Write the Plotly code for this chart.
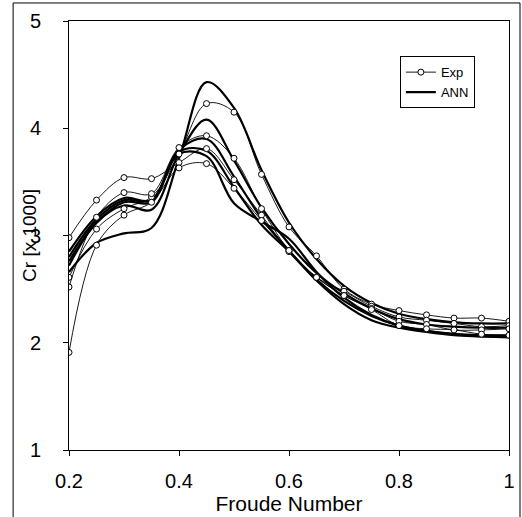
import plotly.graph_objects as go

# Froude number grid shared by all series
fn = [0.2, 0.25, 0.3, 0.35, 0.4, 0.45, 0.5, 0.55, 0.6, 0.65, 0.7, 0.75, 0.8, 0.85, 0.9, 0.95, 1.0]

exp1 = [2.61, 3.06, 3.25, 3.36, 3.76, 4.23, 4.15, 3.57, 3.08, 2.81, 2.50, 2.36, 2.30, 2.26, 2.23, 2.23, 2.20]
exp2 = [2.52, 3.17, 3.40, 3.39, 3.82, 3.93, 3.72, 3.25, 2.86, 2.61, 2.48, 2.34, 2.24, 2.21, 2.18, 2.15, 2.16]
exp3 = [2.98, 3.33, 3.54, 3.53, 3.68, 3.81, 3.52, 3.19, 2.85, 2.61, 2.44, 2.32, 2.20, 2.17, 2.12, 2.12, 2.13]
exp4 = [1.91, 2.91, 3.19, 3.31, 3.63, 3.67, 3.44, 3.14, 2.86, 2.61, 2.44, 2.31, 2.16, 2.13, 2.12, 2.08, 2.07]

# ANN predictions
ann1 = [2.66, 2.93, 3.02, 3.07, 3.72, 4.43, 4.19, 3.61, 3.12, 2.78, 2.53, 2.37, 2.27, 2.22, 2.19, 2.18, 2.18]
ann2 = [2.72, 3.12, 3.28, 3.24, 3.76, 4.08, 3.70, 3.26, 2.92, 2.65, 2.46, 2.32, 2.22, 2.17, 2.15, 2.14, 2.14]
ann3 = [2.80, 3.15, 3.33, 3.33, 3.80, 3.90, 3.55, 3.16, 2.86, 2.59, 2.39, 2.25, 2.16, 2.11, 2.08, 2.07, 2.07]
ann4 = [2.76, 3.12, 3.31, 3.31, 3.76, 3.74, 3.30, 3.13, 2.97, 2.66, 2.42, 2.26, 2.16, 2.11, 2.08, 2.06, 2.06]
ann5 = [2.85, 3.18, 3.35, 3.33, 3.78, 3.79, 3.45, 3.10, 2.85, 2.58, 2.36, 2.21, 2.14, 2.10, 2.07, 2.06, 2.05]

exp_list = [exp1, exp2, exp3, exp4]
ann_list = [ann1, ann2, ann3, ann4, ann5]

fig = go.Figure()

for i, a in enumerate(ann_list):
    fig.add_trace(go.Scatter(x=fn, y=a, mode="lines", name="ANN",
                             line=dict(color="black", width=2.2, shape="spline", smoothing=1),
                             showlegend=(i == 0), legendrank=2))

for i, e in enumerate(exp_list):
    fig.add_trace(go.Scatter(x=fn, y=e, mode="lines+markers", name="Exp",
                             line=dict(color="black", width=0.9, shape="spline", smoothing=1),
                             marker=dict(symbol="circle", size=6, color="white",
                                         line=dict(color="black", width=1)),
                             showlegend=(i == 0), legendrank=1))

# outer frame of the original picture
fig.add_shape(type="rect", xref="paper", yref="paper", x0=-0.127, x1=1.025, y0=-0.3, y1=1.042,
              line=dict(color="black", width=1))

# y title as annotation so it can sit close to the tick labels
fig.add_annotation(text="Cr [x 1000]", xref="paper", yref="paper", x=-0.09, y=0.5,
                   textangle=-90, showarrow=False, xanchor="center", yanchor="middle",
                   font=dict(size=19))

fig.update_layout(
    width=522, height=517,
    margin=dict(l=69, r=13, t=21, b=67),
    plot_bgcolor="white", paper_bgcolor="white",
    font=dict(family="Liberation Sans, Arial", size=20, color="black"),
    legend=dict(x=0.752, y=0.918, xanchor="left", yanchor="top",
                bordercolor="black", borderwidth=1, bgcolor="white",
                font=dict(size=13), itemwidth=30, tracegroupgap=0),
    xaxis=dict(range=[0.2, 1.0], tickvals=[0.2, 0.4, 0.6, 0.8, 1.0], ticktext=["0.2", "0.4", "0.6", "0.8", "1"],
               showgrid=False, zeroline=False, showline=True, linecolor="black", linewidth=1, mirror=True,
               ticks="outside", ticklen=5, tickcolor="black", ticklabelstandoff=8, automargin=False,
               title=dict(text="Froude Number", font=dict(size=21), standoff=5)),
    yaxis=dict(range=[1, 5], tickvals=[1, 2, 3, 4, 5],
               showgrid=False, zeroline=False, showline=True, linecolor="black", linewidth=1, mirror=True,
               ticks="outside", ticklen=5, tickcolor="black", ticklabelstandoff=18, automargin=False),
)

# page default body margin would shift the figure by 8px
fig.write_html("out.html", config={"displayModeBar": False},
               post_script="document.body.style.margin='0';")
